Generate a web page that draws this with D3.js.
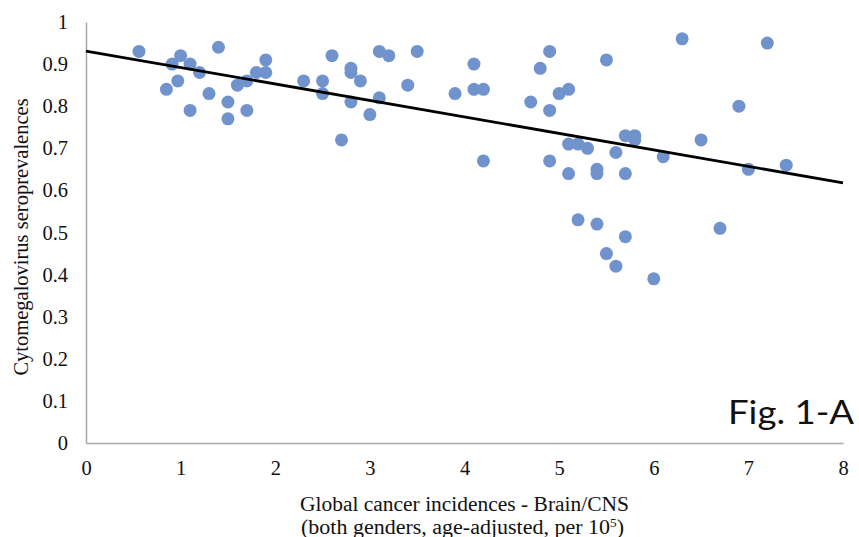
<!DOCTYPE html>
<html>
<head>
<meta charset="utf-8">
<script src="https://cdn.jsdelivr.net/npm/d3@7"></script>
<style>
  html, body { margin: 0; padding: 0; background: #fff; }
  svg { display: block; }
</style>
</head>
<body>
<svg id="chart" width="859" height="537"></svg>
<script>
// ---- data ----
const xValues = [0.56,0.85,0.91,1.0,0.97,1.1,1.1,1.2,1.4,1.3,1.5,1.5,1.6,1.7,1.7,1.8,1.9,1.9,
  2.3,2.5,2.5,2.6,2.7,2.8,2.8,2.8,2.9,3.0,3.1,3.1,3.2,3.4,3.5,3.9,4.1,4.1,4.2,4.2,
  4.7,4.8,4.9,4.9,4.9,5.0,5.1,5.1,5.1,5.2,5.2,5.3,5.4,5.4,5.4,5.5,5.5,5.6,5.6,5.7,5.7,5.7,
  5.8,5.8,6.0,6.1,6.3,6.5,6.7,6.9,7.0,7.2,7.4];
const yValues = [0.93,0.84,0.90,0.92,0.86,0.90,0.79,0.88,0.94,0.83,0.81,0.77,0.85,0.86,0.79,0.88,0.88,0.91,
  0.86,0.86,0.83,0.92,0.72,0.89,0.88,0.81,0.86,0.78,0.93,0.82,0.92,0.85,0.93,0.83,0.90,0.84,0.84,0.67,
  0.81,0.89,0.93,0.79,0.67,0.83,0.84,0.71,0.64,0.71,0.53,0.70,0.65,0.64,0.52,0.91,0.45,0.69,0.42,0.73,0.64,0.49,
  0.73,0.72,0.39,0.68,0.96,0.72,0.51,0.80,0.65,0.95,0.66];
const trendX = [0, 8];
const trendY = [0.931, 0.618];
const xTicks = [0,1,2,3,4,5,6,7,8];
const yTicks = [0,0.1,0.2,0.3,0.4,0.5,0.6,0.7,0.8,0.9,1];
const xTitle1 = "Global cancer incidences - Brain/CNS";
const xTitle2a = "(both genders, age-adjusted, per 10";
const xTitle2sup = "5";
const xTitle2b = ")";
const yTitle = "Cytomegalovirus seroprevalences";
const figLabel = "Fig. 1-A";

// ---- layout ----
const L = 86, R = 843, T = 22, B = 443;
const svg = d3.select("#chart");
const x = d3.scaleLinear().domain([0, 8]).range([L, R]);
const y = d3.scaleLinear().domain([0, 1]).range([B, T]);
const serif = "'Liberation Serif','Times New Roman',serif";

const gx = svg.append("g").attr("transform", `translate(0,${B})`)
  .call(d3.axisBottom(x).tickValues(xTicks).tickSize(0).tickPadding(17).tickFormat(d3.format("d")));
const gy = svg.append("g").attr("transform", `translate(${L},0)`)
  .call(d3.axisLeft(y).tickValues(yTicks).tickSize(0).tickPadding(18).tickFormat(d => d === 0 || d === 1 ? String(d) : d3.format(".1f")(d)));
[gx, gy].forEach(g => {
  g.select(".domain").attr("stroke", "#a9a9a9").attr("stroke-width", 1.5);
  g.selectAll("text").attr("font-family", serif).attr("font-size", 20.5).attr("fill", "#111");
});

// points
const pts = xValues.map((v, i) => ({x: v, y: yValues[i]}));
svg.append("g").selectAll("circle").data(pts).join("circle")
  .attr("cx", d => x(d.x)).attr("cy", d => y(d.y)).attr("r", 6.5)
  .attr("fill", "#7193cd");

// trendline
svg.append("line")
  .attr("x1", x(trendX[0])).attr("y1", y(trendY[0]))
  .attr("x2", x(trendX[1])).attr("y2", y(trendY[1]))
  .attr("stroke", "#000").attr("stroke-width", 2.8);

// axis titles
svg.append("text").attr("x", 300).attr("y", 510.5)
  .attr("textLength", 329).attr("lengthAdjust", "spacingAndGlyphs")
  .attr("font-family", serif).attr("font-size", 20).attr("fill", "#111").text(xTitle1);
const t2 = svg.append("text").attr("x", 301).attr("y", 533.5)
  .attr("textLength", 323).attr("lengthAdjust", "spacingAndGlyphs")
  .attr("font-family", serif).attr("font-size", 20).attr("fill", "#111");
t2.append("tspan").text(xTitle2a);
t2.append("tspan").attr("font-size", 12).attr("dy", -7).text(xTitle2sup);
t2.append("tspan").attr("dy", 7).text(xTitle2b);

svg.append("text").attr("transform", `translate(28,237) rotate(-90)`).attr("text-anchor", "middle")
  .attr("font-family", serif).attr("font-size", 20.5).attr("fill", "#111").text(yTitle);

// fig label
svg.append("text").attr("x", 728).attr("y", 424)
  .attr("textLength", 126).attr("lengthAdjust", "spacingAndGlyphs")
  .attr("font-family", "Lato, 'Open Sans', sans-serif").attr("font-size", 32).attr("fill", "#111").text(figLabel);
</script>
</body>
</html>
